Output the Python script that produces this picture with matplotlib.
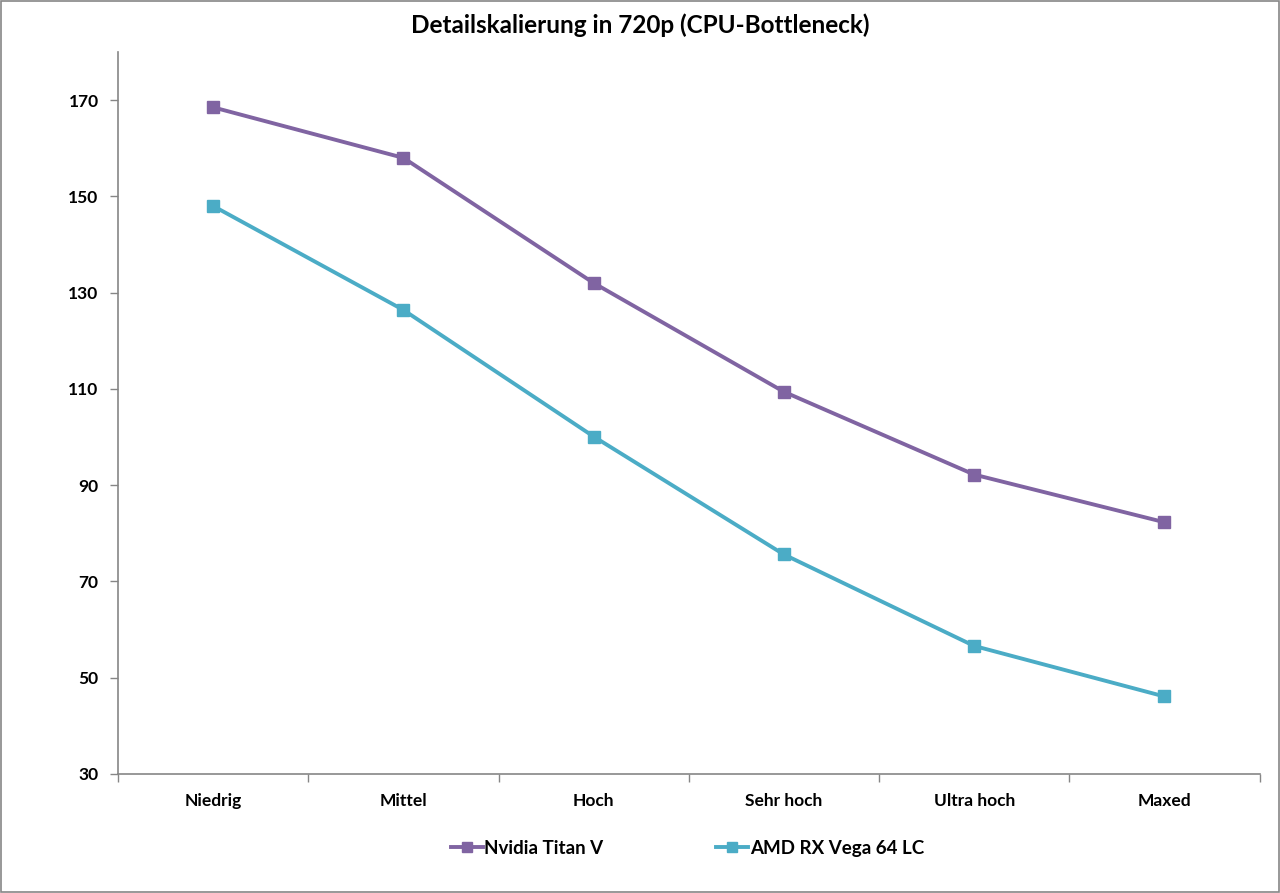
import matplotlib
matplotlib.use('Agg')
import matplotlib.pyplot as plt
from matplotlib.patches import Rectangle
import numpy as np

# ---------------- DATA ----------------
categories = ["Niedrig", "Mittel", "Hoch", "Sehr hoch", "Ultra hoch", "Maxed"]
titan_v = [168.5, 158.0, 132.0, 109.4, 92.2, 82.3]
vega_64_lc = [148.0, 126.4, 100.1, 75.6, 56.6, 46.1]
y_ticks = [30, 50, 70, 90, 110, 130, 150, 170]

PURPLE = "#8064A2"
CYAN = "#4BACC6"
AXIS = "#868686"

plt.rcParams['font.family'] = ['Lato', 'DejaVu Sans']

fig = plt.figure(figsize=(12.8, 8.93), dpi=100)
ax = fig.add_axes([0.0922, 0.1333, 0.8918, 0.8085])

x = np.arange(len(categories))
ax.plot(x, titan_v, color=PURPLE, lw=2.8, marker='s', ms=8, label="Nvidia Titan V")
ax.plot(x, vega_64_lc, color=CYAN, lw=2.8, marker='s', ms=8, label="AMD RX Vega 64 LC")

ax.set_xlim(-0.5, len(categories) - 0.5)
ax.set_ylim(30, 180)
ax.set_yticks(y_ticks)
ax.set_yticklabels([str(v) for v in y_ticks], fontsize=12.5, fontweight='bold')

# category labels at centres, tick marks at boundaries
ax.set_xticks(x)
ax.set_xticklabels(categories, fontsize=12.5, fontweight='bold')
ax.tick_params(axis='x', length=0, pad=14)
ax.set_xticks(np.arange(-0.5, len(categories)), minor=True)
ax.tick_params(axis='x', which='minor', length=6, color=AXIS, width=1)
ax.tick_params(axis='y', length=6, color=AXIS, width=1, pad=8)

for s in ['top', 'right']:
    ax.spines[s].set_visible(False)
for s in ['left', 'bottom']:
    ax.spines[s].set_color(AXIS)
    ax.spines[s].set_linewidth(1.2)

fig.suptitle("Detailskalierung in 720p (CPU-Bottleneck)", fontsize=17.5, fontweight='bold', y=0.985)

leg = fig.legend(loc='center', bbox_to_anchor=(0.537, 0.05), ncol=2, frameon=False,
                 prop={'weight': 'bold', 'size': 13.5},
                 handlelength=1.7, handletextpad=0.1, columnspacing=6.0, markerscale=0.85)

# outer frame
fig.patches.append(Rectangle((0.001, 0.001), 0.998, 0.998, transform=fig.transFigure,
                             fill=False, edgecolor=AXIS, lw=1.2))

fig.savefig("out.png", dpi=100)
